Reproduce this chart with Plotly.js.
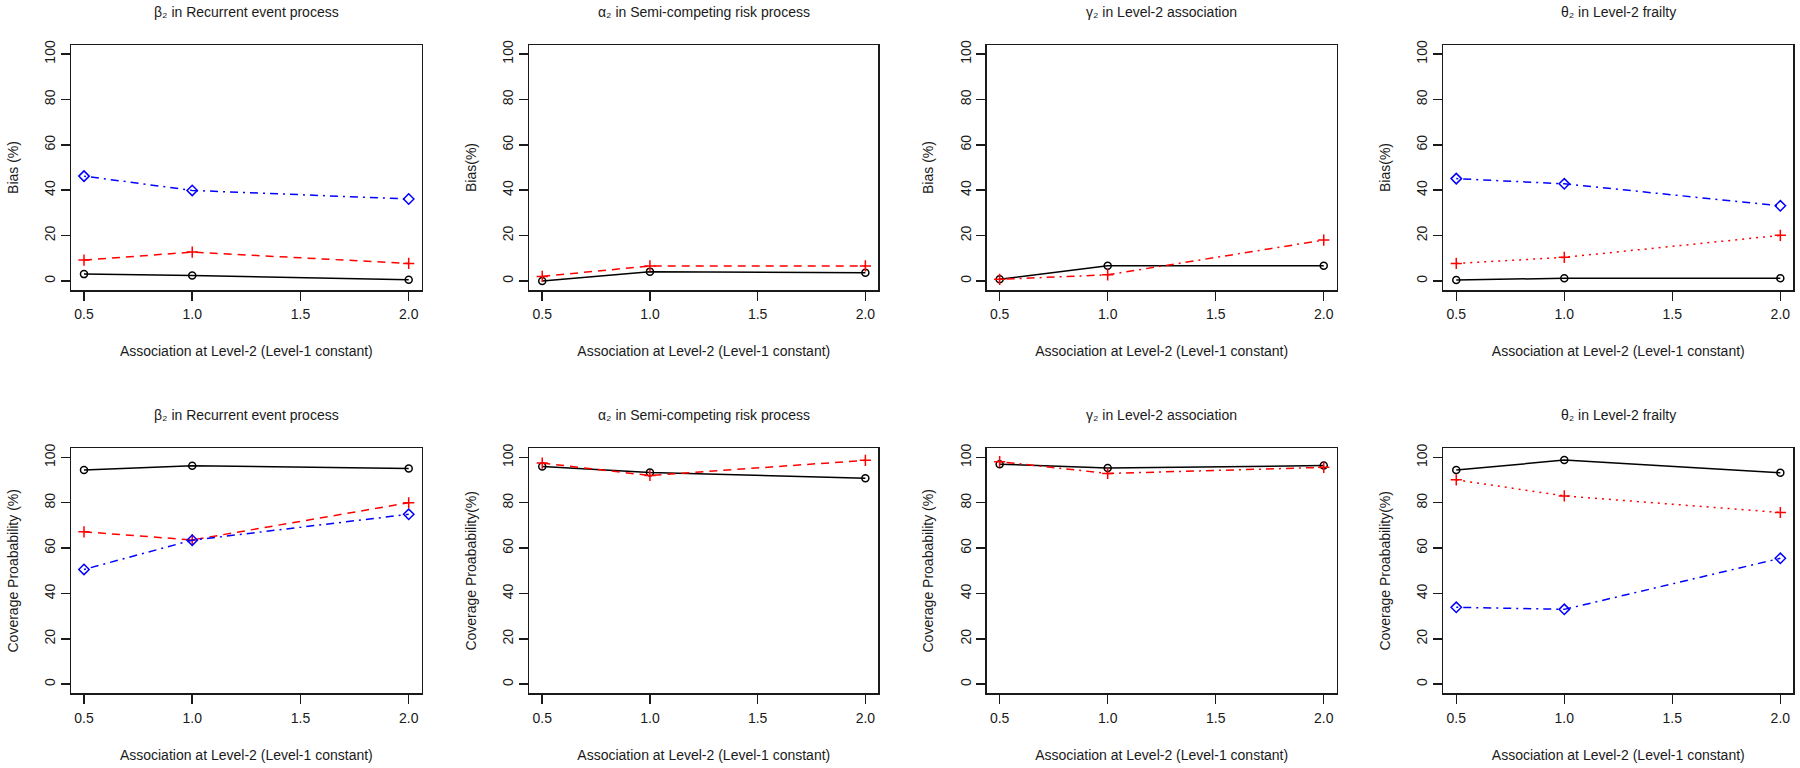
<!DOCTYPE html>
<html>
<head>
<meta charset="utf-8">
<script src="https://cdn.plot.ly/plotly-3.0.1.min.js"></script>
<style>html,body{margin:0;padding:0;background:#fff;}#chart{width:1800px;height:768px;}</style>
</head>
<body>
<div id="chart"></div>
<script>
// ---- data ----
const xVals = [0.5, 1.0, 2.0];
const xTickVals = [0.5, 1.0, 1.5, 2.0];
const xTickText = ["0.5", "1.0", "1.5", "2.0"];
const yTickVals = [0, 20, 40, 60, 80, 100];

const panelTitles = [
  "β₂ in Recurrent event process",
  "α₂ in Semi-competing risk process",
  "γ₂ in Level-2 association",
  "θ₂ in Level-2 frailty",
  "β₂ in Recurrent event process",
  "α₂ in Semi-competing risk process",
  "γ₂ in Level-2 association",
  "θ₂ in Level-2 frailty"
];
const yTitles = [
  "Bias (%)", "Bias(%)", "Bias (%)", "Bias(%)",
  "Coverage Proabability (%)", "Coverage Proabability(%)", "Coverage Proabability (%)", "Coverage Proabability(%)"
];
const xTitle = "Association at Level-2 (Level-1 constant)";

// Bias panels
const biasBeta2Black = [3.0, 2.4, 0.5];
const biasBeta2Red   = [9.2, 12.7, 7.7];
const biasBeta2Blue  = [46.2, 39.9, 36.1];

const biasAlpha2Black = [0.0, 4.1, 3.6];
const biasAlpha2Red   = [2.0, 6.6, 6.6];

const biasGamma2Black = [0.7, 6.7, 6.7];
const biasGamma2Red   = [0.7, 2.7, 18.0];

const biasTheta2Black = [0.4, 1.2, 1.2];
const biasTheta2Red   = [7.7, 10.4, 20.1];
const biasTheta2Blue  = [45.1, 42.8, 33.1];

// Coverage probability panels
const cpBeta2Black = [94.4, 96.3, 95.1];
const cpBeta2Red   = [67.2, 63.6, 80.0];
const cpBeta2Blue  = [50.6, 63.5, 74.9];

const cpAlpha2Black = [96.0, 93.3, 90.8];
const cpAlpha2Red   = [97.5, 92.0, 98.7];

const cpGamma2Black = [97.0, 95.3, 96.4];
const cpGamma2Red   = [98.1, 92.9, 95.6];

const cpTheta2Black = [94.4, 98.8, 93.2];
const cpTheta2Red   = [90.1, 83.0, 75.7];
const cpTheta2Blue  = [33.9, 33.0, 55.5];

// ---- styles ----
const DASHED = "8px,6px";
const DOTTED = "2px,5px";
const DOTDASH = "2px,5px,8px,5px";

const panels = [
  [[biasBeta2Black, "k", "solid"], [biasBeta2Red, "r", DASHED], [biasBeta2Blue, "b", DOTDASH]],
  [[biasAlpha2Black, "k", "solid"], [biasAlpha2Red, "r", DASHED]],
  [[biasGamma2Black, "k", "solid"], [biasGamma2Red, "r", DOTDASH]],
  [[biasTheta2Black, "k", "solid"], [biasTheta2Red, "r", DOTTED], [biasTheta2Blue, "b", DOTDASH]],
  [[cpBeta2Black, "k", "solid"], [cpBeta2Red, "r", DASHED], [cpBeta2Blue, "b", DOTDASH]],
  [[cpAlpha2Black, "k", "solid"], [cpAlpha2Red, "r", DASHED]],
  [[cpGamma2Black, "k", "solid"], [cpGamma2Red, "r", DOTDASH]],
  [[cpTheta2Black, "k", "solid"], [cpTheta2Red, "r", DOTTED], [cpTheta2Blue, "b", DOTDASH]]
];

const seriesStyle = {
  k: {color: "#000000", symbol: "circle-open", size: 7},
  r: {color: "#ff0000", symbol: "cross-thin-open", size: 8},
  b: {color: "#0000ff", symbol: "diamond-open", size: 8}
};

const W = 1800, H = 768;
const colPx = [[71, 421.7], [529.3, 878.3], [986.7, 1336.7], [1443.3, 1793.3]];
const rowPx = [[45, 290], [448.3, 693.3]];
const titleYPx = [11.7, 414.7];

const font = {family: "Liberation Sans, Arial, Helvetica, sans-serif", size: 14, color: "#1a1a1a"};

const data = [];
const layout = {
  width: W, height: H,
  margin: {l: 0, r: 0, t: 0, b: 0},
  paper_bgcolor: "#ffffff",
  plot_bgcolor: "#ffffff",
  showlegend: false,
  font: font,
  annotations: []
};

for (let i = 0; i < 8; i++) {
  const row = Math.floor(i / 4), col = i % 4;
  const n = i + 1;
  const xa = "x" + (n === 1 ? "" : n), ya = "y" + (n === 1 ? "" : n);
  const xKey = "xaxis" + (n === 1 ? "" : n), yKey = "yaxis" + (n === 1 ? "" : n);

  panels[i].forEach(([vals, c, dash]) => {
    const st = seriesStyle[c];
    data.push({
      type: "scatter", mode: "lines+markers",
      x: xVals, y: vals, xaxis: xa, yaxis: ya,
      line: {color: st.color, width: 1.5, dash: dash},
      marker: {symbol: st.symbol, size: st.size, color: st.color, line: {color: st.color, width: 1.5}},
      cliponaxis: false, hoverinfo: "x+y"
    });
  });

  const common = {
    showgrid: false, zeroline: false,
    showline: true, mirror: true, linecolor: "#1a1a1a", linewidth: 1.5,
    ticks: "outside", ticklen: 9, tickwidth: 1.5, tickcolor: "#1a1a1a",
    tickfont: font, fixedrange: true, automargin: false
  };

  layout[xKey] = Object.assign({}, common, {
    domain: [colPx[col][0] / W, colPx[col][1] / W],
    anchor: ya,
    range: [0.44, 2.06],
    tickmode: "array", tickvals: xTickVals, ticktext: xTickText,
    ticklabelstandoff: 2,
    title: {text: xTitle, font: font, standoff: 25}
  });
  layout[yKey] = Object.assign({}, common, {
    domain: [1 - rowPx[row][1] / H, 1 - rowPx[row][0] / H],
    anchor: xa,
    range: [-4, 104],
    tickmode: "array", tickvals: yTickVals,
    tickangle: -90,
    title: {text: yTitles[i], font: font, standoff: 20}
  });

  layout.annotations.push({
    xref: "paper", yref: "paper",
    x: (colPx[col][0] + colPx[col][1]) / 2 / W,
    y: 1 - titleYPx[row] / H,
    xanchor: "center", yanchor: "middle",
    text: panelTitles[i], showarrow: false,
    font: font
  });
}

Plotly.newPlot("chart", data, layout, {displayModeBar: false, staticPlot: true});
</script>
</body>
</html>
